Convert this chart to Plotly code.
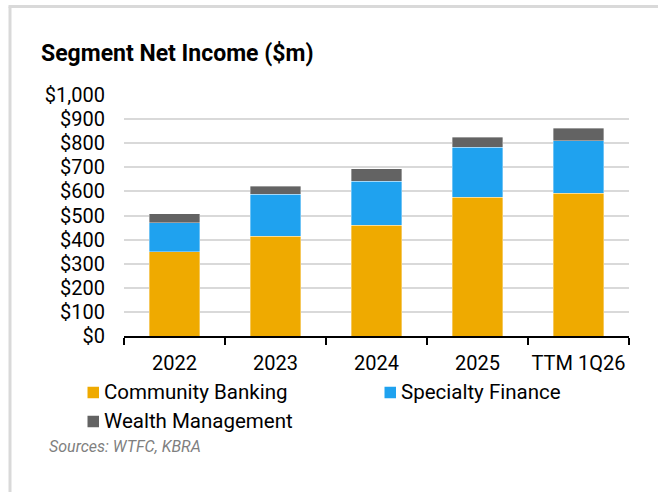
import plotly.graph_objects as go

# Segment net income by year ($m)
categories = ["2022", "2023", "2024", "2025", "TTM 1Q26"]
community_banking = [350, 413, 459, 575, 592]
specialty_finance = [119, 175, 184, 208, 218]
wealth_management = [39, 34, 51, 41, 53]

series_names = ["Community Banking", "Specialty Finance", "Wealth Management"]
series_colors = ["#EFAA00", "#1FA2EF", "#636363"]
y_ticks = [0, 100, 200, 300, 400, 500, 600, 700, 800, 900, 1000]
y_tick_labels = ["${:,}".format(v) for v in y_ticks]

W, H = 658, 492
ML, MR, MT, MB = 124, 29, 95, 156
PW, PH = W - ML - MR, H - MT - MB


def px_x(x):
    return (x - ML) / PW


def px_y(y):
    return (H - MB - y) / PH


FONT = "Roboto"

fig = go.Figure()
for name, vals, col in zip(series_names,
                           [community_banking, specialty_finance, wealth_management],
                           series_colors):
    fig.add_trace(go.Bar(
        x=categories, y=vals, name=name,
        marker=dict(color=col, line=dict(color="rgba(255,255,255,0.6)", width=0.6)),
        showlegend=False,
    ))

shapes = []
annotations = []

# outer frame (left and top rules)
shapes.append(dict(type="line", xref="paper", yref="paper",
                   x0=px_x(10), x1=px_x(10), y0=px_y(6.5), y1=px_y(H),
                   line=dict(color="#D9D9D9", width=3)))
shapes.append(dict(type="line", xref="paper", yref="paper",
                   x0=px_x(8.5), x1=px_x(W), y0=px_y(6.5), y1=px_y(6.5),
                   line=dict(color="#D9D9D9", width=3)))

# title
annotations.append(dict(text="<b>Segment Net Income ($m)</b>", xref="paper", yref="paper",
                        x=px_x(39), y=px_y(54), xanchor="left", yanchor="middle",
                        showarrow=False, font=dict(family=FONT, size=23, color="#000000")))

# legend
legend_pos = [(87.5, 392.5), (384.5, 392.5), (87.5, 421.5)]
for name, col, (lx, ly) in zip(series_names, series_colors, legend_pos):
    shapes.append(dict(type="rect", xref="paper", yref="paper",
                       x0=px_x(lx), x1=px_x(lx + 11.5), y0=px_y(ly - 5.75), y1=px_y(ly + 5.75),
                       fillcolor=col, line=dict(width=0)))
    annotations.append(dict(text=name, xref="paper", yref="paper",
                            x=px_x(lx + 14), y=px_y(ly - 1), xanchor="left", yanchor="middle",
                            showarrow=False, font=dict(family=FONT, size=20.5, color="#000000")))

# source note
annotations.append(dict(text="<i>Sources: WTFC, KBRA</i>", xref="paper", yref="paper",
                        x=px_x(46.5), y=px_y(446.5), xanchor="left", yanchor="middle",
                        showarrow=False, font=dict(family=FONT, size=16, color="#7F7F7F")))

fig.update_layout(
    width=W, height=H,
    margin=dict(l=ML, r=MR, t=MT, b=MB, autoexpand=False),
    barmode="stack", bargap=0.5,
    plot_bgcolor="white", paper_bgcolor="white",
    font=dict(family=FONT, color="#000000"),
    shapes=shapes, annotations=annotations,
    showlegend=False,
)
fig.update_xaxes(
    showline=True, linecolor="#000000", linewidth=1.5,
    ticks="outside", tickson="boundaries", ticklen=7, tickwidth=1.5, tickcolor="#000000",
    tickangle=0, automargin=False, ticklabelstandoff=8,
    tickfont=dict(family=FONT, size=20, color="#000000"),
    showgrid=False,
)
fig.update_yaxes(
    range=[0, 1000], tickvals=y_ticks, ticktext=y_tick_labels,
    showgrid=True, gridcolor="#D9D9D9", gridwidth=2,
    zeroline=False, showline=False, ticks="", automargin=False,
    ticklabelstandoff=18,
    tickfont=dict(family=FONT, size=20, color="#000000"),
)

fig.write_html("out.html")
